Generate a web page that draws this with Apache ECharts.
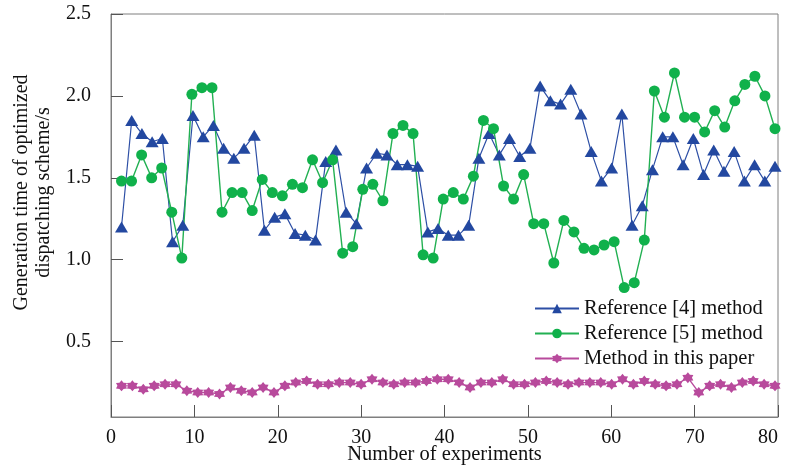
<!DOCTYPE html>
<html>
<head>
<meta charset="utf-8">
<script src="https://cdn.jsdelivr.net/npm/echarts@6/dist/echarts.min.js"></script>
<style>html,body{margin:0;padding:0;background:#fff;}#c{width:786px;height:467px;}</style>
</head>
<body>
<div id="c"></div>
<script>
var xTicks = [0, 10, 20, 30, 40, 50, 60, 70, 80];
var yTicks = [0.5, 1.0, 1.5, 2.0, 2.5];
var ref4Values = [1.20,1.85,1.77,1.72,1.74,1.11,1.21,1.88,1.75,1.82,1.68,1.62,1.68,1.76,1.18,1.26,1.28,1.16,1.15,1.12,1.60,1.67,1.29,1.22,1.56,1.65,1.64,1.58,1.58,1.57,1.17,1.19,1.15,1.15,1.21,1.62,1.77,1.64,1.74,1.63,1.68,2.06,1.97,1.95,2.04,1.89,1.66,1.48,1.56,1.89,1.21,1.33,1.55,1.75,1.75,1.58,1.74,1.52,1.67,1.54,1.66,1.48,1.58,1.48,1.57];
var ref5Values = [1.48,1.48,1.64,1.50,1.56,1.29,1.01,2.01,2.05,2.05,1.29,1.41,1.41,1.30,1.49,1.41,1.39,1.46,1.44,1.61,1.47,1.61,1.04,1.08,1.43,1.46,1.36,1.77,1.82,1.77,1.03,1.01,1.37,1.41,1.37,1.51,1.85,1.80,1.45,1.37,1.52,1.22,1.22,0.98,1.24,1.17,1.07,1.06,1.09,1.11,0.83,0.86,1.12,2.03,1.87,2.14,1.87,1.87,1.78,1.91,1.81,1.97,2.07,2.12,2.00,1.80];
var paperValues = [0.23,0.23,0.21,0.23,0.24,0.24,0.20,0.19,0.19,0.18,0.22,0.20,0.19,0.22,0.19,0.23,0.25,0.26,0.24,0.24,0.25,0.25,0.24,0.27,0.25,0.24,0.25,0.25,0.26,0.27,0.27,0.25,0.22,0.25,0.25,0.27,0.24,0.24,0.25,0.26,0.25,0.24,0.25,0.25,0.25,0.24,0.27,0.24,0.26,0.24,0.23,0.24,0.28,0.19,0.23,0.24,0.22,0.25,0.26,0.24,0.23];
var seriesNames = ['Reference [4] method', 'Reference [5] method', 'Method in this paper'];

function cats(arr){ return arr.map(function(_, i){ return String(i + 1); }); }

var FONT = '"Liberation Serif", "Times New Roman", serif';
var AXC = '#7f7f7f';
var Y_MIN = 0.04, Y_MAX = 2.5;
var starPath = 'path://M0 -10 L3.2 -5.5 L8.66 -5 L6.4 0 L8.66 5 L3.2 5.5 L0 10 L-3.2 5.5 L-8.66 5 L-6.4 0 L-8.66 -5 L-3.2 -5.5 Z';

var hiddenX = function(n){
  return {type:'category', gridIndex:1, data:n, boundaryGap:false, show:false};
};

var chart = echarts.init(document.getElementById('c'), null, {renderer:'canvas'});
chart.setOption({
  animation:false,
  backgroundColor:'#fff',
  textStyle:{fontFamily:FONT},
  grid:[
    {left:111, right:8, top:14, bottom:50, show:true, borderColor:AXC, borderWidth:1, backgroundColor:'transparent',
     containLabel:false, outerBoundsMode:'none'},
    {left:121.5, right:11, top:14, bottom:50, containLabel:false, outerBoundsMode:'none'}
  ],
  xAxis:[
    {type:'value', gridIndex:0, min:xTicks[0], max:xTicks[xTicks.length-1], interval:10,
     axisLine:{show:true, lineStyle:{color:AXC, width:1}},
     axisTick:{show:true, inside:true, length:12, lineStyle:{color:'#555'}},
     splitLine:{show:false},
     axisLabel:{color:'#111', fontSize:20, fontFamily:FONT, margin:11, alignMaxLabel:'right'},
     name:'Number of experiments', nameLocation:'middle', nameGap:27, nameMoveOverlap:false,
     nameTextStyle:{color:'#111', fontSize:20.5, fontFamily:FONT}},
    hiddenX(cats(ref4Values)),
    hiddenX(cats(ref5Values)),
    hiddenX(cats(paperValues))
  ],
  yAxis:[
    {type:'value', gridIndex:0, min:Y_MIN, max:Y_MAX,
     axisLine:{show:true, lineStyle:{color:AXC, width:1}},
     axisTick:{show:true, inside:true, length:12, customValues:yTicks, lineStyle:{color:'#555'}},
     axisLabel:{customValues:yTicks, color:'#111', fontSize:20, fontFamily:FONT, margin:20,
       formatter:function(v){ return v.toFixed(1); }},
     splitLine:{show:false},
     name:'Generation time of optimized\ndispatching scheme/s', nameLocation:'middle', nameGap:56, nameRotate:90,
     nameMoveOverlap:false,
     nameTextStyle:{color:'#111', fontSize:20, fontFamily:FONT, lineHeight:22, padding:[0,0,0,46]}},
    {type:'value', gridIndex:1, min:Y_MIN, max:Y_MAX, show:false, splitLine:{show:false}}
  ],
  legend:{
    orient:'vertical', left:529, top:293, itemWidth:44, itemHeight:12, itemGap:4,
    textStyle:{fontSize:20.5, fontFamily:FONT, color:'#111'},
    data:seriesNames
  },
  series:[
    {name:seriesNames[0], type:'line', xAxisIndex:1, yAxisIndex:1, data:ref4Values,
     symbol:'triangle', symbolSize:[13,11], showAllSymbol:true,
     lineStyle:{color:'#2d4fa5', width:1.2}, itemStyle:{color:'#2348a0'}},
    {name:seriesNames[1], type:'line', xAxisIndex:2, yAxisIndex:1, data:ref5Values,
     symbol:'circle', symbolSize:11, showAllSymbol:true,
     lineStyle:{color:'#22b052', width:1.4}, itemStyle:{color:'#10b14b'}},
    {name:seriesNames[2], type:'line', xAxisIndex:3, yAxisIndex:1, data:paperValues,
     symbol:starPath, symbolSize:11, showAllSymbol:true,
     lineStyle:{color:'#b84a9c', width:1.4}, itemStyle:{color:'#b84a9c'}}
  ]
});
</script>
</body>
</html>
